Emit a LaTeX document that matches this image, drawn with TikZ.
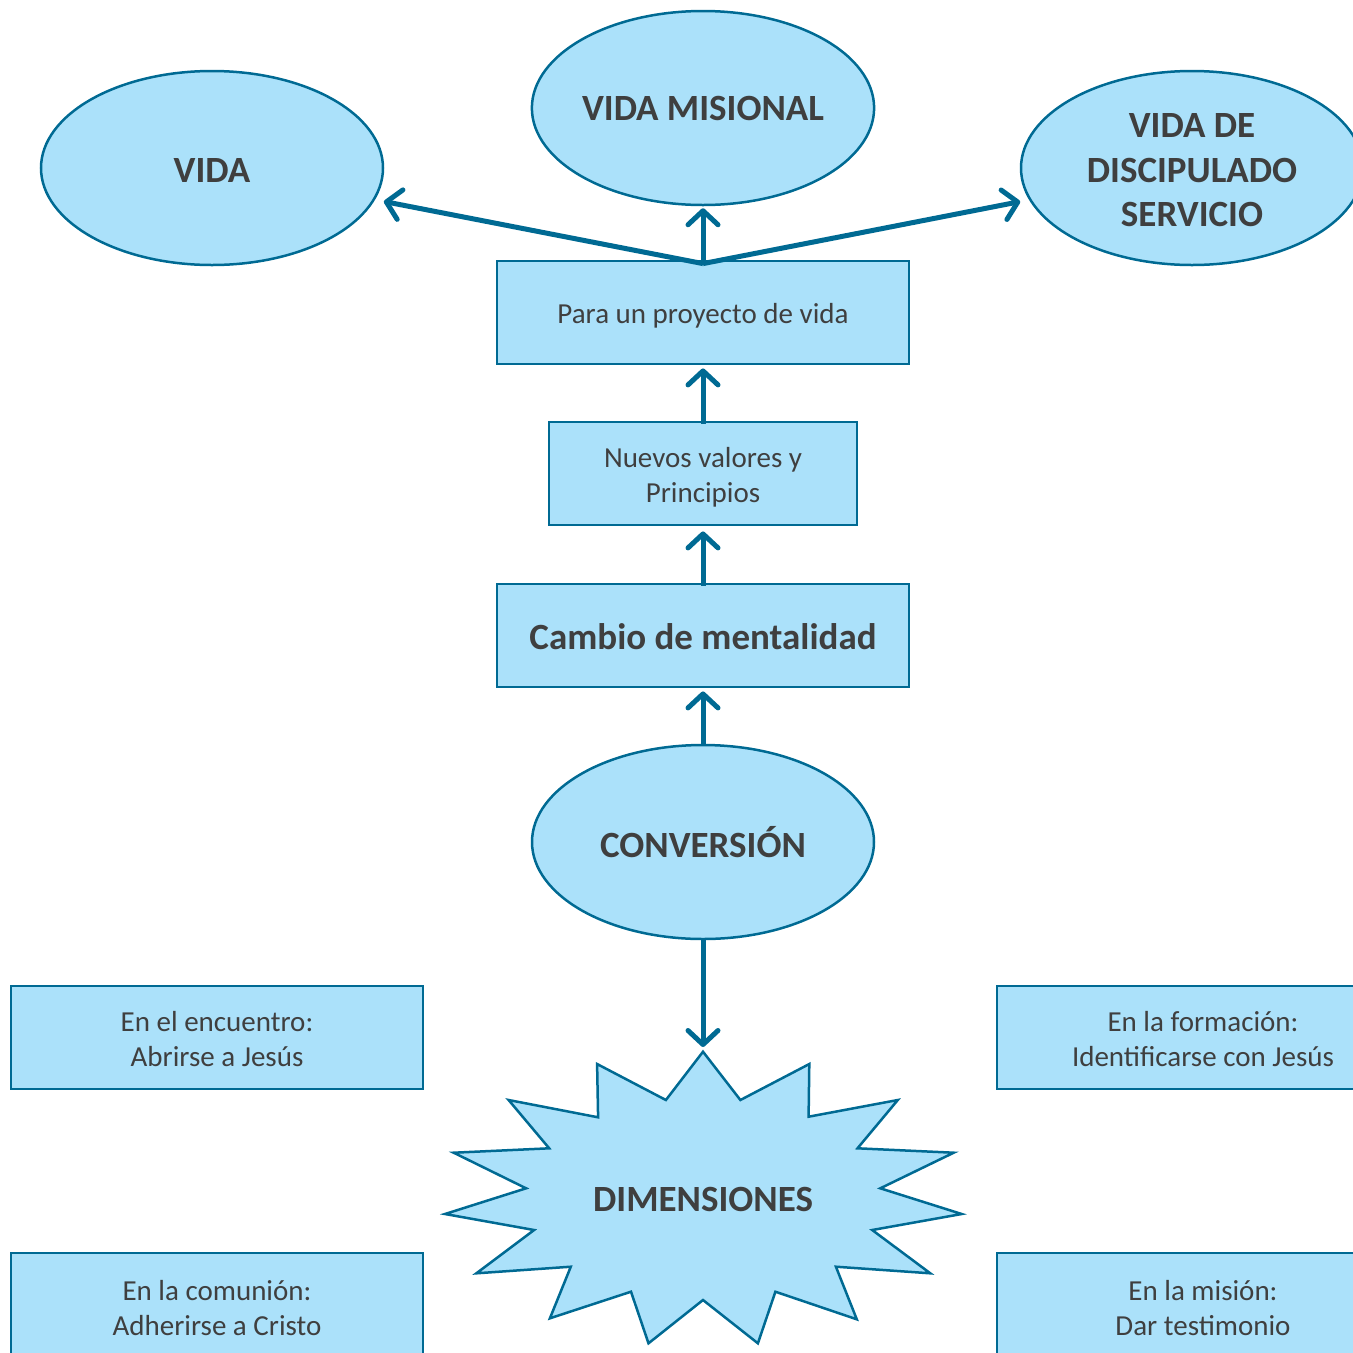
\documentclass[tikz,border=0pt]{standalone}
\usepackage{fontspec}
\setmainfont{Carlito}
\usetikzlibrary{arrows.meta,shapes.geometric}
\definecolor{fillc}{HTML}{ABE1FA}
\definecolor{linec}{HTML}{006A93}
\definecolor{txtc}{HTML}{3F3F3F}
\newcommand{\dnt}[2]{\raisebox{-#1}[\height][\depth]{\begin{tabular}{@{}c@{}}#2\end{tabular}}}
\begin{document}
\begin{tikzpicture}[x=1pt,y=-1pt,
  every node/.style={text=txtc},
  oval/.style={ellipse,draw=linec,fill=fillc,line width=2.5pt,minimum width=342pt,minimum height=194pt,inner sep=0pt,font=\fontsize{37}{44.5}\selectfont\bfseries,align=center},
  boxa/.style={rectangle,draw=linec,fill=fillc,line width=2.8pt,minimum height=103pt,inner sep=0pt,align=center},
  small/.style={font=\fontsize{29}{35}\selectfont},
  big/.style={font=\fontsize{37}{44.5}\selectfont\bfseries},
  conn/.style={draw=linec,line width=5pt,-{Straight Barb[length=14pt,width=30pt,line width=5pt,round]}}
]
\useasboundingbox (0,0) rectangle (1353,1353);
\clip (0,0) rectangle (1353,1353);
% ellipses
\node[oval] (vida) at (212,168) {\dnt{6pt}{VIDA}};
\node[oval] (mis) at (703,108) {VIDA MISIONAL};
\node[oval] (disc) at (1192,168) {\dnt{5.5pt}{VIDA DE\\DISCIPULADO\\SERVICIO}};
\node[oval] (conv) at (703,842) {CONVERSIÓN};
% boxes
\node[boxa,small,minimum width=412pt] (proy) at (703,312.5) {\dnt{4pt}{Para un proyecto de vida}};
\node[boxa,small,minimum width=308pt] (nuev) at (703,473.5) {\dnt{4pt}{Nuevos valores y\\Principios}};
\node[boxa,big,minimum width=412pt] (camb) at (703,635.5) {\dnt{5pt}{Cambio de mentalidad}};
\node[boxa,small,minimum width=412pt] (enc) at (217,1037.5) {\dnt{4pt}{En el encuentro:\\Abrirse a Jesús}};
\node[boxa,small,minimum width=412pt] (com) at (217,1304.5) {\dnt{6pt}{En la comunión:\\Adherirse a Cristo}};
\node[boxa,small,minimum width=412pt] (form) at (1203,1037.5) {\dnt{4pt}{En la formación:\\Identificarse con Jesús}};
\node[boxa,small,minimum width=412pt] (mision) at (1203,1304.5) {\dnt{6pt}{En la misión:\\Dar testimonio}};
% starburst
\filldraw[fill=fillc,draw=linec,line width=2.5pt,line join=miter]
 (703,1051.7) -- (740.4,1100) -- (809.3,1064) -- (808.6,1116.7) -- (897.8,1100) -- (857.5,1148.3)
 -- (953.7,1152.7) -- (880.3,1188.3) -- (961.7,1214) -- (872.2,1230) -- (930.3,1273.3) -- (835.9,1266.7)
 -- (856.8,1319.3) -- (775.4,1291.7) -- (757.9,1343.3) -- (703,1300) -- (648.5,1343.3) -- (631,1291.7)
 -- (549.9,1318.3) -- (570.8,1266.7) -- (476.4,1273.3) -- (534.1,1230) -- (445,1214) -- (526.1,1188.3)
 -- (453.7,1152.7) -- (549.2,1148.3) -- (508.6,1100) -- (598.1,1117.3) -- (597.1,1064) -- (665.9,1100) -- cycle;
\node[big] (dim) at (703,1199) {DIMENSIONES};
\coordinate (startop) at (703,1047);
% connectors
\coordinate (apex) at ([yshift=-4pt]proy.north);
\draw[conn,shorten >=9pt] (apex) -- (vida);
\draw[conn,shorten >=9pt] (apex) -- (disc);
\draw[conn,shorten >=2pt] (apex) -- (mis.south);
\draw[conn,shorten >=3pt] ([yshift=-3pt]nuev.north) -- (proy.south);
\draw[conn,shorten >=5pt] ([yshift=-3pt]camb.north) -- (nuev.south);
\draw[conn,shorten >=3pt] (conv.north) -- (camb.south);
\draw[conn] ([yshift=2pt]conv.south) -- (startop);
\end{tikzpicture}
\end{document}
